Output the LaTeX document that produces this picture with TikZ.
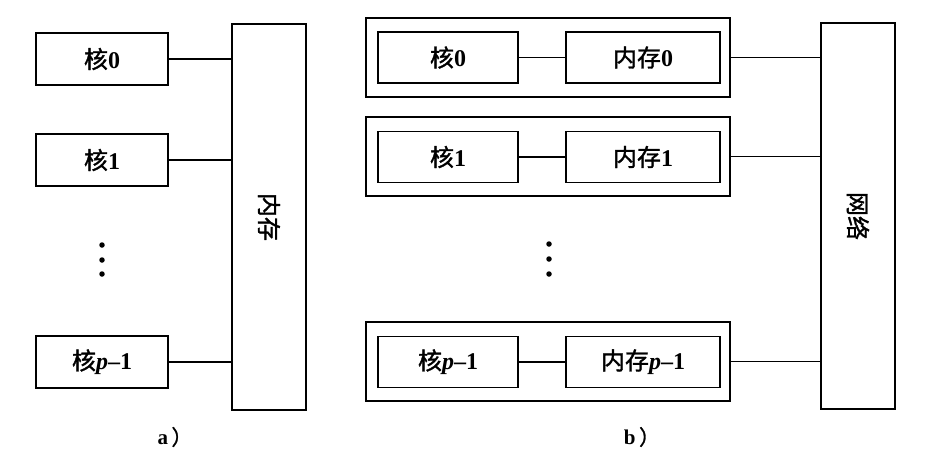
\documentclass[tikz,border=0pt]{standalone}
\usepackage{fontspec}
\setmainfont{Liberation Serif}
\newfontfamily\cjk[FakeBold=1.3]{Noto Sans CJK SC}
\newcommand{\hz}[1]{{\cjk\mdseries #1}}
\tikzset{
  box/.style={draw, line width=1.2pt, inner sep=0pt, minimum width=#1},
  box/.default=132pt,
  lbl/.style={font=\fontsize{24}{28}\selectfont\bfseries},
  conn/.style={line width=1.1pt},
  dotc/.style={fill=black, circle, inner sep=0pt, minimum size=5.5pt},
}
\begin{document}
\begin{tikzpicture}[x=1pt,y=-1pt]
\useasboundingbox (0,0) rectangle (926,458);
% ---- panel a
\node[box=132pt, minimum height=52pt, lbl] (c0) at (102,59) {\hz{核}0};
\node[box=132pt, minimum height=52pt, lbl] (c1) at (102,160) {\hz{核}1};
\node[box=132pt, minimum height=52pt, lbl] (cp) at (102,362) {\hz{核}\textit{p}–1};
\node[box=74pt, minimum height=386pt] (mem) at (269,217) {};
\node[lbl, rotate=-90] (memlbl) at (mem.center) {\hz{内存}};
\draw[conn] (c0.east) -- (c0.east -| mem.west);
\draw[conn] (c1.east) -- (c1.east -| mem.west);
\draw[conn] (cp.east) -- (cp.east -| mem.west);
\node[dotc] (da1) at (102,245) {};
\node[dotc] (da2) at (102,260) {};
\node[dotc] (da3) at (102,274) {};
\node[font=\fontsize{21}{24}\selectfont\bfseries] (la) at (175,437) {a\,\hz{）}};
% ---- panel b
\node[box=364pt, minimum height=79pt] (o0) at (548,57.5) {};
\node[box=364pt, minimum height=79pt] (o1) at (548,156.5) {};
\node[box=364pt, minimum height=79pt] (op) at (548,361.5) {};
\node[box=140pt, minimum height=51pt, lbl] (k0) at (448,57.5) {\hz{核}0};
\node[box=140pt, minimum height=51pt, lbl] (k1) at (448,157) {\hz{核}1};
\node[box=140pt, minimum height=51pt, lbl] (kp) at (448,362) {\hz{核}\textit{p}–1};
\node[box=154pt, minimum height=51pt, lbl] (m0) at (643,57.5) {\hz{内存}0};
\node[box=154pt, minimum height=51pt, lbl] (m1) at (643,157) {\hz{内存}1};
\node[box=154pt, minimum height=51pt, lbl] (mp) at (643,362) {\hz{内存}\textit{p}–1};
\node[box=74pt, minimum height=386pt] (net) at (858,216) {};
\node[lbl, rotate=-90] (netlbl) at (net.center) {\hz{网络}};
\draw[conn] (k0.east) -- (m0.west);
\draw[conn] (k1.east) -- (m1.west);
\draw[conn] (kp.east) -- (mp.west);
\draw[conn] (o0.east) -- (o0.east -| net.west);
\draw[conn] (o1.east) -- (o1.east -| net.west);
\draw[conn] (op.east) -- (op.east -| net.west);
\node[dotc] (db1) at (549,244) {};
\node[dotc] (db2) at (549,259) {};
\node[dotc] (db3) at (549,274) {};
\node[font=\fontsize{21}{24}\selectfont\bfseries] (lb) at (642,437) {b\,\hz{）}};
\end{tikzpicture}
\end{document}
